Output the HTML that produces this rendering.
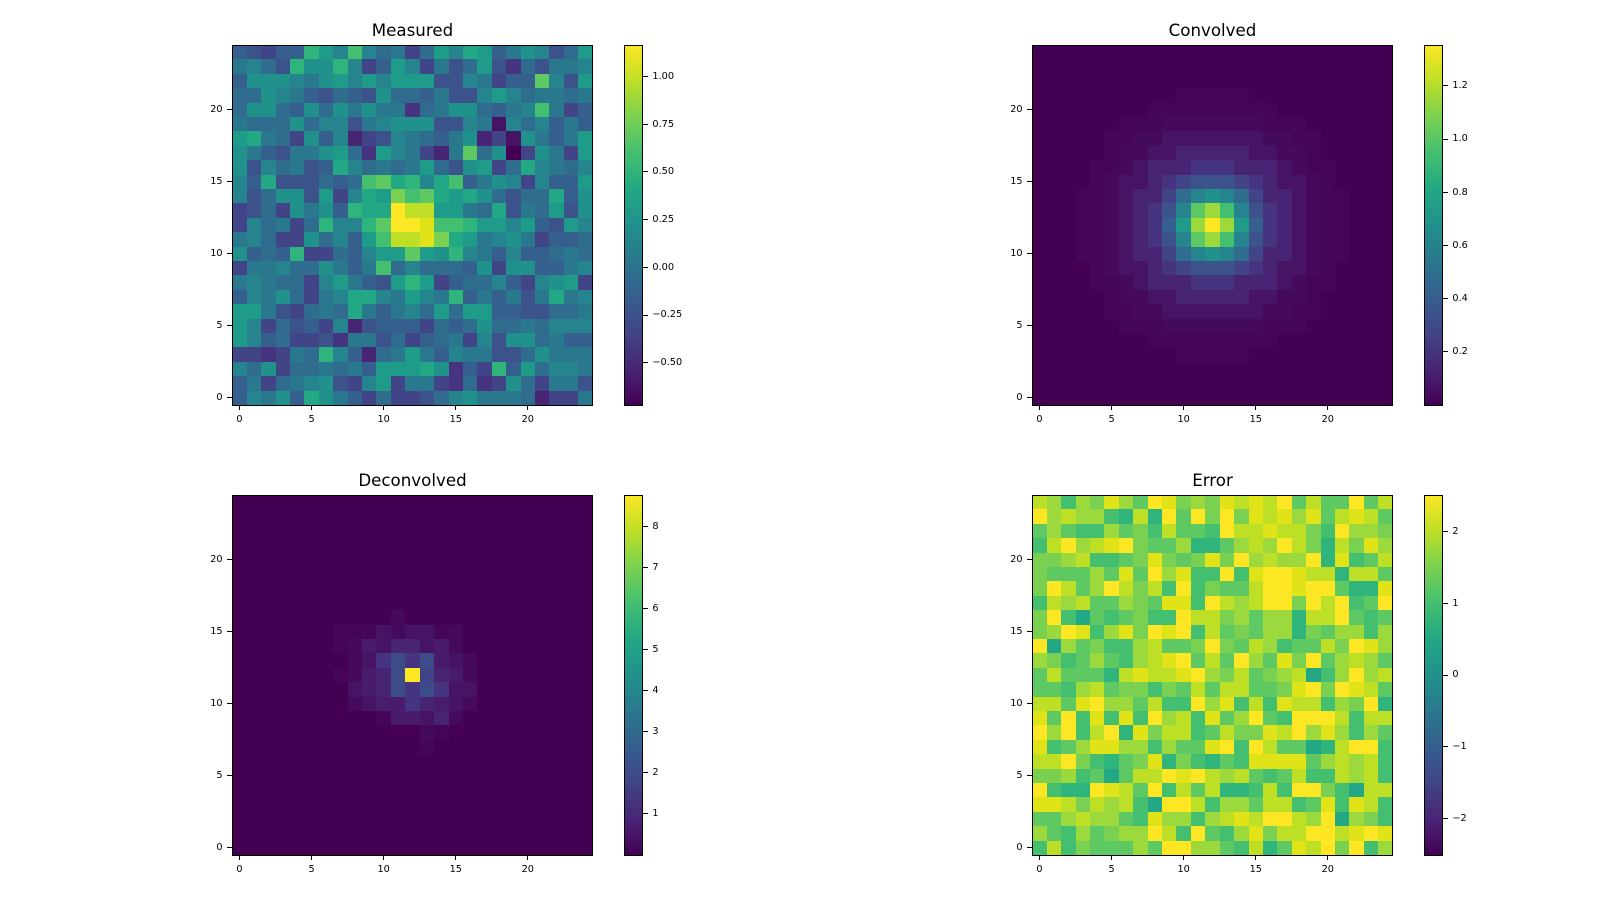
<!DOCTYPE html>
<html><head><meta charset="utf-8"><style>
*{box-sizing:border-box}
body{margin:0;width:1600px;height:900px;background:#fff;position:relative;overflow:hidden;font-family:"DejaVu Sans","Liberation Sans",sans-serif;color:#000}
.ax{position:absolute;width:360.4px;height:360px;background:#440154}
.gd{position:absolute;left:0;top:0;width:100%;height:100%;display:grid;grid-template-columns:repeat(25,1fr);grid-template-rows:repeat(25,1fr)}
.sg{position:absolute;display:grid}
p{margin:0}
.fr{position:absolute;left:-0.5px;top:-0.5px;right:-0.5px;bottom:-0.5px;border:1px solid #000}
.xt{position:absolute;top:360px;width:1px;height:4.9px;background:#000}
.yt{position:absolute;left:-4.9px;width:4.9px;height:1px;background:#000}
.xl{position:absolute;top:369.5px;width:40px;text-align:center;font-size:9.72px;line-height:9.72px}
.yl{position:absolute;right:370.1px;font-size:9.72px;line-height:9.72px;white-space:nowrap}
.tt{position:absolute;left:-100px;right:-100px;top:-22.2px;text-align:center;font-size:16.67px;line-height:16.67px;white-space:nowrap}
.cb{position:absolute;width:18.4px;height:360px;background:linear-gradient(to top,#440154 0%,#482475 10%,#414487 20%,#355f8d 30%,#2a788e 40%,#21918c 50%,#22a884 60%,#44bf70 70%,#7ad151 80%,#bddf26 90%,#fde725 100%)}
.ct{position:absolute;left:18.4px;width:4.9px;height:1px;background:#000}
.cl{position:absolute;left:28.1px;font-size:9.72px;line-height:9.72px;white-space:nowrap}
.a{background:#440154}.y{background:#450559}.z{background:#450a5c}.b{background:#471365}.w{background:#481b6d}.c{background:#482475}.d{background:#463480}.e{background:#414487}.x{background:#3e4b89}.f{background:#3b528b}.g{background:#355f8d}.h{background:#2f6c8e}.i{background:#2a788e}.j{background:#25848e}.k{background:#21918c}.l{background:#1e9c89}.m{background:#22a884}.n{background:#2fb47c}.o{background:#44bf70}.p{background:#5ec962}.q{background:#7ad151}.r{background:#9bd93c}.s{background:#bddf26}.t{background:#dfe318}.u{background:#fde725}
</style></head><body>

<!-- Measured -->
<div class="ax" style="left:232.3px;top:45px">
<div class="gd">
<p class=g><p class=f><p class=e><p class=g><p class=g><p class=n><p class=l><p class=j><p class=o><p class=j><p class=h><p class=i><p class=e><p class=h><p class=l><p class=j><p class=m><p class=l><p class=g><p class=i><p class=k><p class=j><p class=f><p class=h><p class=l>
<p class=i><p class=j><p class=h><p class=f><p class=n><p class=k><p class=k><p class=n><p class=j><p class=e><p class=g><p class=l><p class=j><p class=e><p class=i><p class=f><p class=h><p class=l><p class=f><p class=d><p class=h><p class=f><p class=i><p class=i><p class=j>
<p class=g><p class=k><p class=k><p class=k><p class=j><p class=i><p class=k><p class=l><p class=j><p class=l><p class=j><p class=l><p class=l><p class=l><p class=f><p class=f><p class=j><p class=i><p class=e><p class=g><p class=g><p class=p><p class=j><p class=f><p class=l>
<p class=h><p class=h><p class=k><p class=j><p class=i><p class=g><p class=f><p class=h><p class=g><p class=f><p class=k><p class=h><p class=h><p class=g><p class=i><p class=f><p class=f><p class=j><p class=l><p class=j><p class=h><p class=i><p class=i><p class=h><p class=i>
<p class=h><p class=k><p class=k><p class=h><p class=g><p class=k><p class=h><p class=k><p class=i><p class=k><p class=i><p class=i><p class=d><p class=h><p class=i><p class=k><p class=k><p class=h><p class=g><p class=i><p class=j><p class=o><p class=i><p class=e><p class=g>
<p class=i><p class=h><p class=h><p class=h><p class=k><p class=h><p class=j><p class=j><p class=f><p class=i><p class=j><p class=k><p class=k><p class=k><p class=f><p class=f><p class=j><p class=i><p class=b><p class=j><p class=h><p class=j><p class=g><p class=i><p class=g>
<p class=l><p class=m><p class=i><p class=h><p class=e><p class=k><p class=g><p class=j><p class=c><p class=e><p class=f><p class=j><p class=i><p class=h><p class=g><p class=i><p class=k><p class=c><p class=e><p class=b><p class=k><p class=i><p class=g><p class=i><p class=l>
<p class=k><p class=i><p class=g><p class=f><p class=i><p class=i><p class=k><p class=l><p class=h><p class=d><p class=l><p class=j><p class=i><p class=e><p class=c><p class=i><p class=p><p class=h><p class=k><p class=a><p class=e><p class=k><p class=i><p class=e><p class=l>
<p class=k><p class=f><p class=j><p class=h><p class=i><p class=f><p class=g><p class=m><p class=j><p class=h><p class=i><p class=h><p class=i><p class=l><p class=h><p class=f><p class=k><p class=l><p class=e><p class=h><p class=m><p class=j><p class=i><p class=h><p class=j>
<p class=j><p class=g><p class=m><p class=f><p class=f><p class=f><p class=h><p class=g><p class=h><p class=o><p class=p><p class=m><p class=n><p class=j><p class=m><p class=o><p class=g><p class=i><p class=k><p class=j><p class=e><p class=j><p class=g><p class=g><p class=l>
<p class=j><p class=f><p class=h><p class=k><p class=k><p class=f><p class=l><p class=e><p class=j><p class=m><p class=l><p class=q><p class=o><p class=p><p class=m><p class=l><p class=m><p class=k><p class=h><p class=f><p class=h><p class=h><p class=m><p class=g><p class=k>
<p class=e><p class=f><p class=h><p class=e><p class=k><p class=i><p class=k><p class=g><p class=n><p class=m><p class=m><p class=u><p class=s><p class=s><p class=l><p class=l><p class=i><p class=h><p class=m><p class=f><p class=i><p class=h><p class=l><p class=f><p class=k>
<p class=e><p class=j><p class=h><p class=i><p class=e><p class=h><p class=n><p class=j><p class=j><p class=n><p class=p><p class=u><p class=u><p class=t><p class=o><p class=o><p class=n><p class=l><p class=l><p class=j><p class=l><p class=g><p class=f><p class=l><p class=j>
<p class=i><p class=j><p class=h><p class=e><p class=e><p class=k><p class=h><p class=j><p class=g><p class=l><p class=o><p class=s><p class=s><p class=t><p class=q><p class=m><p class=l><p class=i><p class=j><p class=k><p class=i><p class=e><p class=g><p class=g><p class=h>
<p class=k><p class=g><p class=h><p class=g><p class=n><p class=e><p class=e><p class=h><p class=g><p class=j><p class=l><p class=l><p class=p><p class=l><p class=k><p class=n><p class=j><p class=i><p class=g><p class=j><p class=g><p class=g><p class=h><p class=i><p class=h>
<p class=e><p class=i><p class=i><p class=j><p class=h><p class=h><p class=k><p class=i><p class=g><p class=i><p class=o><p class=h><p class=j><p class=h><p class=h><p class=h><p class=g><p class=k><p class=e><p class=k><p class=k><p class=g><p class=g><p class=i><p class=j>
<p class=i><p class=j><p class=i><p class=h><p class=h><p class=e><p class=j><p class=l><p class=i><p class=g><p class=f><p class=l><p class=n><p class=l><p class=e><p class=g><p class=h><p class=h><p class=j><p class=g><p class=e><p class=j><p class=k><p class=l><p class=e>
<p class=g><p class=j><p class=i><p class=k><p class=h><p class=e><p class=i><p class=j><p class=m><p class=m><p class=j><p class=i><p class=l><p class=j><p class=i><p class=n><p class=g><p class=i><p class=g><p class=i><p class=f><p class=i><p class=m><p class=i><p class=j>
<p class=l><p class=l><p class=i><p class=f><p class=e><p class=h><p class=i><p class=h><p class=m><p class=i><p class=g><p class=i><p class=j><p class=h><p class=l><p class=h><p class=l><p class=l><p class=g><p class=g><p class=f><p class=f><p class=h><p class=h><p class=i>
<p class=l><p class=j><p class=e><p class=h><p class=f><p class=g><p class=e><p class=j><p class=c><p class=f><p class=g><p class=g><p class=g><p class=e><p class=h><p class=g><p class=h><p class=k><p class=h><p class=h><p class=i><p class=h><p class=j><p class=j><p class=j>
<p class=l><p class=j><p class=g><p class=h><p class=e><p class=e><p class=f><p class=d><p class=i><p class=i><p class=f><p class=h><p class=e><p class=g><p class=h><p class=i><p class=e><p class=j><p class=f><p class=k><p class=k><p class=h><p class=i><p class=g><p class=g>
<p class=e><p class=e><p class=d><p class=e><p class=i><p class=h><p class=n><p class=j><p class=g><p class=c><p class=h><p class=i><p class=l><p class=i><p class=g><p class=j><p class=i><p class=i><p class=f><p class=f><p class=h><p class=k><p class=i><p class=i><p class=i>
<p class=j><p class=h><p class=k><p class=e><p class=h><p class=h><p class=i><p class=h><p class=i><p class=g><p class=l><p class=l><p class=l><p class=m><p class=k><p class=d><p class=g><p class=e><p class=n><p class=g><p class=l><p class=h><p class=j><p class=j><p class=i>
<p class=g><p class=i><p class=e><p class=h><p class=i><p class=j><p class=k><p class=f><p class=e><p class=j><p class=l><p class=e><p class=i><p class=i><p class=e><p class=d><p class=h><p class=d><p class=e><p class=k><p class=h><p class=e><p class=i><p class=i><p class=f>
<p class=g><p class=j><p class=i><p class=k><p class=g><p class=m><p class=k><p class=i><p class=g><p class=e><p class=h><p class=e><p class=e><p class=f><p class=h><p class=j><p class=k><p class=i><p class=i><p class=i><p class=h><p class=c><p class=e><p class=e><p class=i>
</div>
<div class="fr"></div>
<div class="tt">Measured</div>
<div class="xt" style="left:6.7px"></div><div class="xt" style="left:78.8px"></div><div class="xt" style="left:150.9px"></div><div class="xt" style="left:223px"></div><div class="xt" style="left:295px"></div>
<div class="xl" style="left:-12.8px">0</div><div class="xl" style="left:59.3px">5</div><div class="xl" style="left:131.4px">10</div><div class="xl" style="left:203.5px">15</div><div class="xl" style="left:275.5px">20</div>
<div class="yt" style="top:352.3px"></div><div class="yt" style="top:280.3px"></div><div class="yt" style="top:208.3px"></div><div class="yt" style="top:136.3px"></div><div class="yt" style="top:64.3px"></div>
<div class="yl" style="top:348.1px">0</div><div class="yl" style="top:276.1px">5</div><div class="yl" style="top:204.1px">10</div><div class="yl" style="top:132.1px">15</div><div class="yl" style="top:60.1px">20</div>
</div>
<div class="cb" style="left:624.3px;top:45px">
<div class="fr"></div>
<div class="ct" style="top:31px"></div><div class="ct" style="top:78.7px"></div><div class="ct" style="top:126.4px"></div><div class="ct" style="top:174.1px"></div><div class="ct" style="top:221.8px"></div><div class="ct" style="top:269.5px"></div><div class="ct" style="top:317.2px"></div>
<div class="cl" style="top:26.8px">1.00</div><div class="cl" style="top:74.5px">0.75</div><div class="cl" style="top:122.2px">0.50</div><div class="cl" style="top:169.9px">0.25</div><div class="cl" style="top:217.6px">0.00</div><div class="cl" style="top:265.3px">−0.25</div><div class="cl" style="top:313px">−0.50</div>
</div>

<!-- Convolved -->
<div class="ax" style="left:1032.3px;top:45px">
<div class="sg" style="left:43.25px;top:43.2px;width:273.9px;height:273.6px;grid-template-columns:repeat(19,1fr);grid-template-rows:repeat(19,1fr)">
<p><p><p><p><p><p><p><p class=y><p class=y><p class=y><p class=y><p class=y><p><p><p><p><p><p><p>
<p><p><p><p><p><p class=y><p class=y><p class=y><p class=y><p class=y><p class=y><p class=y><p class=y><p class=y><p><p><p><p><p>
<p><p><p><p class=y><p class=y><p class=y><p class=z><p class=z><p class=z><p class=z><p class=z><p class=z><p class=z><p class=y><p class=y><p class=y><p><p><p>
<p><p><p class=y><p class=y><p class=z><p class=z><p class=b><p class=b><p class=b><p class=b><p class=b><p class=b><p class=b><p class=z><p class=z><p class=y><p class=y><p><p>
<p><p><p class=y><p class=z><p class=z><p class=b><p class=b><p class=c><p class=c><p class=c><p class=c><p class=c><p class=b><p class=b><p class=z><p class=z><p class=y><p><p>
<p><p class=y><p class=y><p class=z><p class=b><p class=c><p class=c><p class=c><p class=d><p class=d><p class=d><p class=c><p class=c><p class=c><p class=b><p class=z><p class=y><p class=y><p>
<p><p class=y><p class=z><p class=b><p class=b><p class=c><p class=d><p class=e><p class=f><p class=f><p class=f><p class=e><p class=d><p class=c><p class=b><p class=b><p class=z><p class=y><p>
<p class=y><p class=y><p class=z><p class=b><p class=c><p class=c><p class=e><p class=h><p class=j><p class=k><p class=j><p class=h><p class=e><p class=c><p class=c><p class=b><p class=z><p class=y><p class=y>
<p class=y><p class=y><p class=z><p class=b><p class=c><p class=d><p class=f><p class=j><p class=p><p class=r><p class=o><p class=j><p class=f><p class=d><p class=c><p class=b><p class=z><p class=y><p class=y>
<p class=y><p class=y><p class=z><p class=b><p class=c><p class=d><p class=g><p class=l><p class=r><p class=u><p class=r><p class=l><p class=g><p class=d><p class=c><p class=b><p class=z><p class=y><p class=y>
<p class=y><p class=y><p class=z><p class=b><p class=c><p class=d><p class=f><p class=j><p class=p><p class=r><p class=o><p class=j><p class=f><p class=d><p class=c><p class=b><p class=z><p class=y><p class=y>
<p class=y><p class=y><p class=z><p class=b><p class=c><p class=c><p class=e><p class=h><p class=j><p class=k><p class=j><p class=h><p class=e><p class=c><p class=c><p class=b><p class=z><p class=y><p class=y>
<p><p class=y><p class=z><p class=b><p class=b><p class=c><p class=d><p class=e><p class=f><p class=f><p class=f><p class=e><p class=d><p class=c><p class=b><p class=b><p class=z><p class=y><p>
<p><p class=y><p class=y><p class=z><p class=b><p class=c><p class=c><p class=c><p class=d><p class=d><p class=d><p class=c><p class=c><p class=c><p class=b><p class=z><p class=y><p class=y><p>
<p><p><p class=y><p class=z><p class=z><p class=b><p class=b><p class=c><p class=c><p class=c><p class=c><p class=c><p class=b><p class=b><p class=z><p class=z><p class=y><p><p>
<p><p><p class=y><p class=y><p class=z><p class=z><p class=b><p class=b><p class=b><p class=b><p class=b><p class=b><p class=b><p class=z><p class=z><p class=y><p class=y><p><p>
<p><p><p><p class=y><p class=y><p class=y><p class=z><p class=z><p class=z><p class=z><p class=z><p class=z><p class=z><p class=y><p class=y><p class=y><p><p><p>
<p><p><p><p><p><p class=y><p class=y><p class=y><p class=y><p class=y><p class=y><p class=y><p class=y><p class=y><p><p><p><p><p>
<p><p><p><p><p><p><p><p class=y><p class=y><p class=y><p class=y><p class=y><p><p><p><p><p><p><p>
</div>
<div class="fr"></div>
<div class="tt">Convolved</div>
<div class="xt" style="left:6.7px"></div><div class="xt" style="left:78.8px"></div><div class="xt" style="left:150.9px"></div><div class="xt" style="left:223px"></div><div class="xt" style="left:295px"></div>
<div class="xl" style="left:-12.8px">0</div><div class="xl" style="left:59.3px">5</div><div class="xl" style="left:131.4px">10</div><div class="xl" style="left:203.5px">15</div><div class="xl" style="left:275.5px">20</div>
<div class="yt" style="top:352.3px"></div><div class="yt" style="top:280.3px"></div><div class="yt" style="top:208.3px"></div><div class="yt" style="top:136.3px"></div><div class="yt" style="top:64.3px"></div>
<div class="yl" style="top:348.1px">0</div><div class="yl" style="top:276.1px">5</div><div class="yl" style="top:204.1px">10</div><div class="yl" style="top:132.1px">15</div><div class="yl" style="top:60.1px">20</div>
</div>
<div class="cb" style="left:1424.3px;top:45px">
<div class="fr"></div>
<div class="ct" style="top:40.3px"></div><div class="ct" style="top:93.5px"></div><div class="ct" style="top:146.7px"></div><div class="ct" style="top:199.9px"></div><div class="ct" style="top:253.1px"></div><div class="ct" style="top:306.3px"></div>
<div class="cl" style="top:36.1px">1.2</div><div class="cl" style="top:89.3px">1.0</div><div class="cl" style="top:142.5px">0.8</div><div class="cl" style="top:195.7px">0.6</div><div class="cl" style="top:248.9px">0.4</div><div class="cl" style="top:302.1px">0.2</div>
</div>

<!-- Deconvolved -->
<div class="ax" style="left:232.3px;top:495px">
<div class="sg" style="left:100.91px;top:115.2px;width:144.16px;height:144px;grid-template-columns:repeat(10,1fr);grid-template-rows:repeat(10,1fr)">
<p><p><p><p><p class=z><p><p><p><p><p>
<p class=y><p class=y><p class=y><p class=b><p class=z><p class=b><p class=b><p class=y><p class=z><p>
<p class=y><p class=z><p class=w><p class=b><p class=c><p class=c><p class=b><p class=w><p class=z><p>
<p><p class=z><p class=b><p class=d><p class=x><p class=d><p class=x><p class=w><p class=b><p class=z>
<p class=y><p class=z><p class=w><p class=c><p class=x><p class=u><p class=e><p class=c><p class=w><p class=z>
<p><p class=b><p class=w><p class=c><p class=x><p class=d><p class=x><p class=d><p class=b><p class=b>
<p><p class=z><p class=b><p class=w><p class=w><p class=d><p class=c><p class=w><p class=b><p class=z>
<p><p><p><p class=y><p class=w><p class=w><p class=b><p class=c><p class=z><p>
<p><p><p><p><p><p><p class=z><p class=y><p><p>
<p><p><p><p><p><p><p class=y><p><p><p>
</div>
<div class="fr"></div>
<div class="tt">Deconvolved</div>
<div class="xt" style="left:6.7px"></div><div class="xt" style="left:78.8px"></div><div class="xt" style="left:150.9px"></div><div class="xt" style="left:223px"></div><div class="xt" style="left:295px"></div>
<div class="xl" style="left:-12.8px">0</div><div class="xl" style="left:59.3px">5</div><div class="xl" style="left:131.4px">10</div><div class="xl" style="left:203.5px">15</div><div class="xl" style="left:275.5px">20</div>
<div class="yt" style="top:352.3px"></div><div class="yt" style="top:280.3px"></div><div class="yt" style="top:208.3px"></div><div class="yt" style="top:136.3px"></div><div class="yt" style="top:64.3px"></div>
<div class="yl" style="top:348.1px">0</div><div class="yl" style="top:276.1px">5</div><div class="yl" style="top:204.1px">10</div><div class="yl" style="top:132.1px">15</div><div class="yl" style="top:60.1px">20</div>
</div>
<div class="cb" style="left:624.3px;top:495px">
<div class="fr"></div>
<div class="ct" style="top:30.7px"></div><div class="ct" style="top:71.8px"></div><div class="ct" style="top:112.9px"></div><div class="ct" style="top:154px"></div><div class="ct" style="top:195.1px"></div><div class="ct" style="top:236.2px"></div><div class="ct" style="top:277.3px"></div><div class="ct" style="top:318.4px"></div>
<div class="cl" style="top:26.5px">8</div><div class="cl" style="top:67.6px">7</div><div class="cl" style="top:108.7px">6</div><div class="cl" style="top:149.8px">5</div><div class="cl" style="top:190.9px">4</div><div class="cl" style="top:232px">3</div><div class="cl" style="top:273.1px">2</div><div class="cl" style="top:314.2px">1</div>
</div>

<!-- Error -->
<div class="ax" style="left:1032.3px;top:495px">
<div class="gd">
<p class=s><p class=r><p class=o><p class=r><p class=q><p class=t><p class=r><p class=p><p class=u><p class=t><p class=q><p class=r><p class=q><p class=t><p class=s><p class=t><p class=s><p class=u><p class=p><p class=s><p class=p><p class=p><p class=u><p class=p><p class=s>
<p class=u><p class=r><p class=s><p class=r><p class=r><p class=o><p class=n><p class=s><p class=n><p class=u><p class=p><p class=u><p class=q><p class=u><p class=q><p class=t><p class=s><p class=t><p class=r><p class=t><p class=p><p class=s><p class=t><p class=s><p class=p>
<p class=p><p class=r><p class=p><p class=o><p class=o><p class=r><p class=p><p class=q><p class=o><p class=s><p class=p><p class=p><p class=o><p class=u><p class=s><p class=s><p class=t><p class=s><p class=s><p class=q><p class=o><p class=u><p class=r><p class=r><p class=q>
<p class=o><p class=s><p class=u><p class=r><p class=s><p class=t><p class=u><p class=q><p class=p><p class=p><p class=r><p class=n><p class=n><p class=p><p class=r><p class=s><p class=r><p class=u><p class=s><p class=q><p class=n><p class=s><p class=q><p class=t><p class=r>
<p class=q><p class=q><p class=r><p class=s><p class=o><p class=o><p class=p><p class=q><p class=t><p class=q><p class=p><p class=q><p class=t><p class=q><p class=u><p class=r><p class=s><p class=r><p class=r><p class=u><p class=n><p class=t><p class=o><p class=p><p class=s>
<p class=q><p class=p><p class=p><p class=p><p class=r><p class=p><p class=t><p class=p><p class=u><p class=r><p class=t><p class=o><p class=o><p class=u><p class=o><p class=t><p class=u><p class=u><p class=t><p class=s><p class=s><p class=n><p class=s><p class=s><p class=p>
<p class=q><p class=u><p class=s><p class=p><p class=r><p class=u><p class=s><p class=q><p class=s><p class=o><p class=u><p class=o><p class=q><p class=p><p class=p><p class=s><p class=u><p class=u><p class=t><p class=u><p class=u><p class=p><p class=n><p class=n><p class=t>
<p class=o><p class=s><p class=r><p class=s><p class=p><p class=p><p class=r><p class=q><p class=p><p class=t><p class=t><p class=o><p class=u><p class=s><p class=r><p class=s><p class=u><p class=u><p class=q><p class=u><p class=s><p class=u><p class=o><p class=p><p class=u>
<p class=q><p class=u><p class=o><p class=m><p class=p><p class=o><p class=p><p class=q><p class=o><p class=o><p class=u><p class=s><p class=s><p class=q><p class=r><p class=p><p class=r><p class=r><p class=n><p class=s><p class=s><p class=u><p class=p><p class=o><p class=p>
<p class=q><p class=r><p class=u><p class=t><p class=o><p class=r><p class=t><p class=q><p class=u><p class=t><p class=u><p class=o><p class=s><p class=p><p class=q><p class=p><p class=r><p class=r><p class=n><p class=q><p class=p><p class=r><p class=r><p class=o><p class=r>
<p class=u><p class=m><p class=r><p class=p><p class=q><p class=o><p class=o><p class=r><p class=s><p class=p><p class=p><p class=q><p class=u><p class=q><p class=p><p class=s><p class=r><p class=o><p class=p><p class=p><p class=s><p class=q><p class=u><p class=t><p class=r>
<p class=r><p class=q><p class=o><p class=p><p class=r><p class=p><p class=o><p class=r><p class=s><p class=t><p class=u><p class=p><p class=s><p class=p><p class=u><p class=r><p class=p><p class=t><p class=q><p class=u><p class=p><p class=r><p class=s><p class=r><p class=p>
<p class=p><p class=s><p class=p><p class=p><p class=p><p class=n><p class=s><p class=t><p class=s><p class=s><p class=t><p class=u><p class=r><p class=q><p class=s><p class=p><p class=q><p class=r><p class=s><p class=m><p class=o><p class=r><p class=u><p class=r><p class=s>
<p class=p><p class=p><p class=o><p class=r><p class=s><p class=p><p class=q><p class=q><p class=o><p class=q><p class=p><p class=s><p class=p><p class=s><p class=s><p class=p><p class=p><p class=q><p class=t><p class=u><p class=q><p class=u><p class=t><p class=s><p class=p>
<p class=s><p class=s><p class=p><p class=t><p class=u><p class=r><p class=r><p class=p><p class=s><p class=o><p class=o><p class=u><p class=r><p class=t><p class=o><p class=s><p class=o><p class=t><p class=s><p class=s><p class=o><p class=r><p class=q><p class=u><p class=n>
<p class=t><p class=p><p class=u><p class=o><p class=t><p class=o><p class=t><p class=o><p class=u><p class=r><p class=s><p class=o><p class=t><p class=p><p class=r><p class=u><p class=p><p class=o><p class=u><p class=u><p class=u><p class=s><p class=o><p class=s><p class=s>
<p class=u><p class=r><p class=u><p class=o><p class=s><p class=u><p class=n><p class=t><p class=q><p class=s><p class=s><p class=o><p class=p><p class=s><p class=q><p class=q><p class=t><p class=s><p class=u><p class=r><p class=t><p class=r><p class=o><p class=r><p class=p>
<p class=t><p class=o><p class=p><p class=r><p class=t><p class=t><p class=r><p class=r><p class=o><p class=r><p class=p><p class=p><p class=t><p class=u><p class=o><p class=u><p class=s><p class=p><p class=p><p class=m><p class=n><p class=s><p class=u><p class=u><p class=o>
<p class=s><p class=s><p class=u><p class=q><p class=o><p class=n><p class=p><p class=q><p class=t><p class=n><p class=q><p class=o><p class=n><p class=p><p class=o><p class=t><p class=t><p class=t><p class=t><p class=p><p class=r><p class=s><p class=r><p class=s><p class=o>
<p class=q><p class=q><p class=r><p class=o><p class=p><p class=m><p class=p><p class=s><p class=s><p class=u><p class=t><p class=u><p class=s><p class=r><p class=s><p class=p><p class=o><p class=p><p class=s><p class=o><p class=o><p class=s><p class=r><p class=s><p class=o>
<p class=u><p class=o><p class=n><p class=n><p class=u><p class=t><p class=s><p class=p><p class=u><p class=o><p class=s><p class=p><p class=s><p class=n><p class=n><p class=o><p class=s><p class=o><p class=u><p class=u><p class=q><p class=o><p class=m><p class=s><p class=s>
<p class=t><p class=t><p class=s><p class=q><p class=s><p class=r><p class=s><p class=o><p class=m><p class=u><p class=u><p class=s><p class=o><p class=r><p class=r><p class=p><p class=s><p class=s><p class=o><p class=p><p class=t><p class=o><p class=t><p class=s><p class=o>
<p class=p><p class=p><p class=r><p class=s><p class=r><p class=r><p class=p><p class=o><p class=t><p class=r><p class=r><p class=o><p class=r><p class=s><p class=t><p class=s><p class=u><p class=u><p class=s><p class=r><p class=u><p class=m><p class=r><p class=q><p class=o>
<p class=r><p class=p><p class=o><p class=r><p class=p><p class=q><p class=r><p class=r><p class=u><p class=s><p class=o><p class=u><p class=p><p class=o><p class=r><p class=t><p class=q><p class=s><p class=s><p class=u><p class=u><p class=s><p class=t><p class=u><p class=t>
<p class=o><p class=s><p class=o><p class=q><p class=p><p class=p><p class=p><p class=r><p class=p><p class=u><p class=u><p class=r><p class=r><p class=p><p class=o><p class=s><p class=n><p class=p><p class=t><p class=s><p class=u><p class=q><p class=u><p class=o><p class=r>
</div>
<div class="fr"></div>
<div class="tt">Error</div>
<div class="xt" style="left:6.7px"></div><div class="xt" style="left:78.8px"></div><div class="xt" style="left:150.9px"></div><div class="xt" style="left:223px"></div><div class="xt" style="left:295px"></div>
<div class="xl" style="left:-12.8px">0</div><div class="xl" style="left:59.3px">5</div><div class="xl" style="left:131.4px">10</div><div class="xl" style="left:203.5px">15</div><div class="xl" style="left:275.5px">20</div>
<div class="yt" style="top:352.3px"></div><div class="yt" style="top:280.3px"></div><div class="yt" style="top:208.3px"></div><div class="yt" style="top:136.3px"></div><div class="yt" style="top:64.3px"></div>
<div class="yl" style="top:348.1px">0</div><div class="yl" style="top:276.1px">5</div><div class="yl" style="top:204.1px">10</div><div class="yl" style="top:132.1px">15</div><div class="yl" style="top:60.1px">20</div>
</div>
<div class="cb" style="left:1424.3px;top:495px">
<div class="fr"></div>
<div class="ct" style="top:36.1px"></div><div class="ct" style="top:107.8px"></div><div class="ct" style="top:179.5px"></div><div class="ct" style="top:251.2px"></div><div class="ct" style="top:322.9px"></div>
<div class="cl" style="top:31.9px">2</div><div class="cl" style="top:103.6px">1</div><div class="cl" style="top:175.3px">0</div><div class="cl" style="top:247px">−1</div><div class="cl" style="top:318.7px">−2</div>
</div>

</body></html>
